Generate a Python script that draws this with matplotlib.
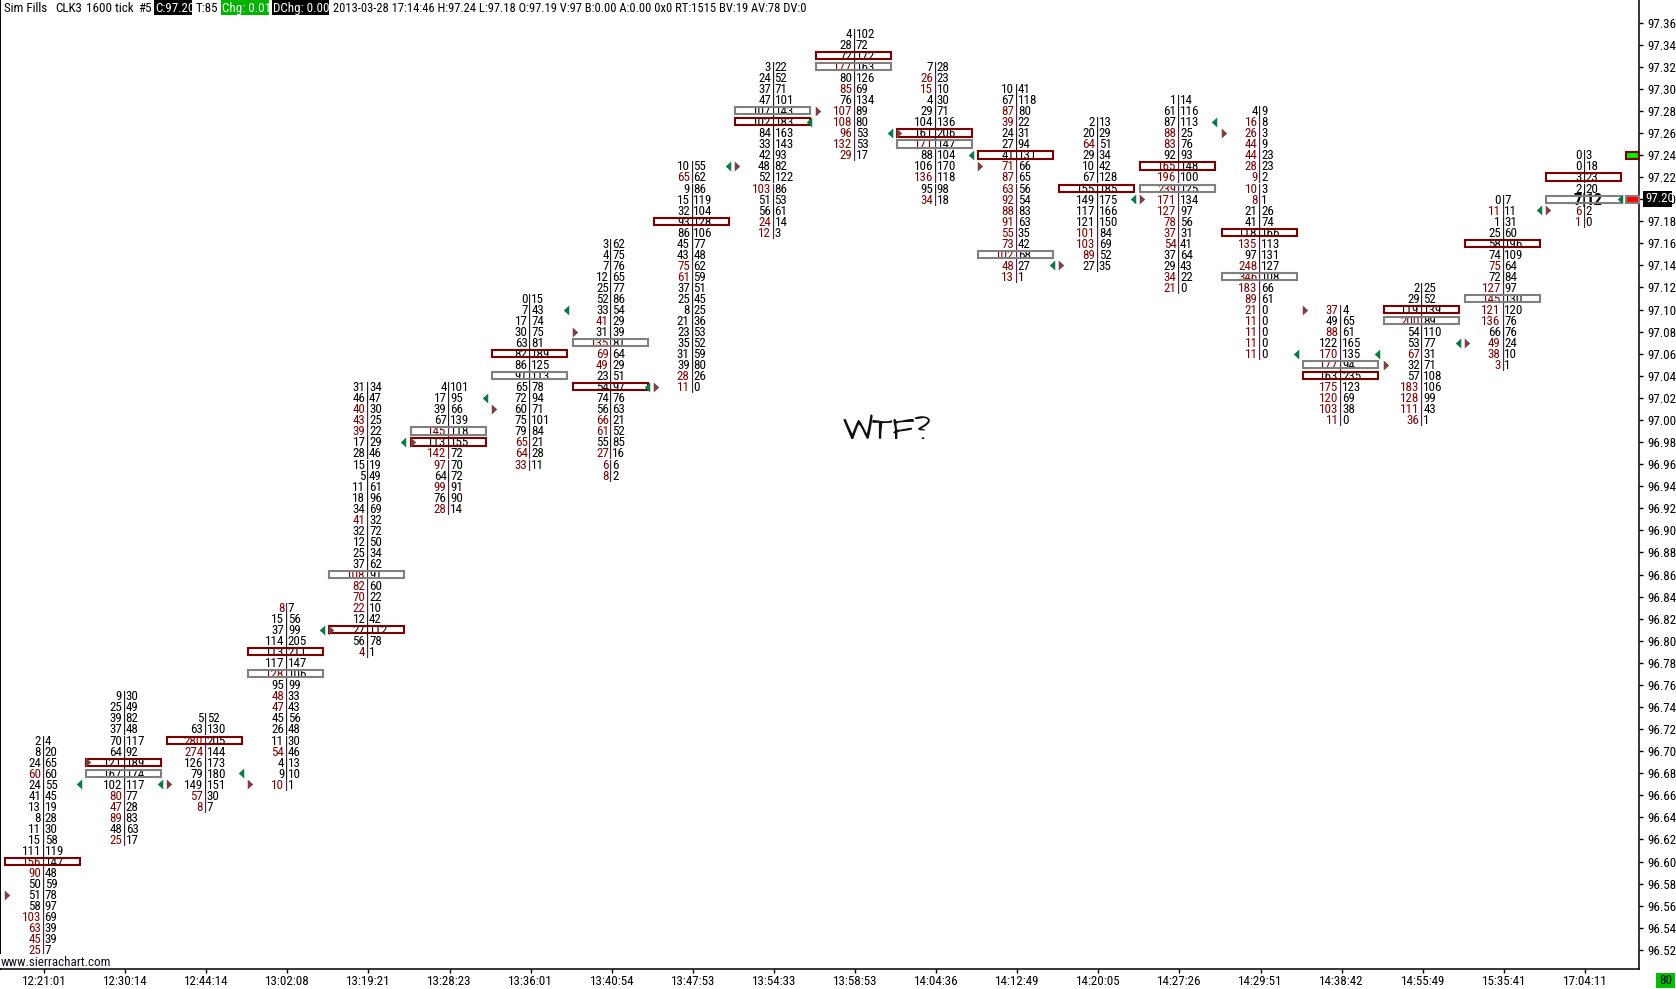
import matplotlib
matplotlib.use("Agg")
import matplotlib.pyplot as plt
from matplotlib.patches import Rectangle
from matplotlib import font_manager as fm

W, H = 1676, 989
names = {f.name for f in fm.fontManager.ttflist}
FONT = 'Liberation Sans'
PXS = 11.5
for cand, size in [('Roboto Condensed', 13.0), ('Archivo Narrow', 13.5), ('Liberation Sans Narrow', 14.0)]:
    if cand in names:
        FONT, PXS = cand, size
        break
HAND = next((n for n in ['Architects Daughter', 'Shadows Into Light', 'Liberation Serif'] if n in names), 'DejaVu Sans')
plt.rcParams['font.family'] = [FONT, 'DejaVu Sans']

times = ["12:21:01","12:30:14","12:44:14","13:02:08","13:19:21","13:28:23","13:36:01","13:40:54","13:47:53","13:54:33",
         "13:58:53","14:04:36","14:12:49","14:20:05","14:27:26","14:29:51","14:38:42","14:55:49","15:35:41","17:04:11"]
top_price = [96.71,96.75,96.73,96.83,97.03,97.03,97.11,97.16,97.23,97.32,97.35,97.32,97.30,97.27,97.29,97.28,97.10,97.12,97.20,97.24]
bids = [
 [2,8,24,60,24,41,13,8,11,15,111,156,90,50,51,58,103,63,45,25],
 [9,25,39,37,70,64,121,167,102,80,47,89,48,25],
 [5,63,280,274,126,79,149,57,8],
 [8,15,37,114,113,117,128,95,48,47,45,26,11,54,4,9,10],
 [31,46,40,43,39,17,28,15,5,11,18,34,41,32,12,25,37,108,82,70,22,12,27,56,4],
 [4,17,39,67,145,113,142,97,64,99,76,28],
 [0,7,17,30,63,82,86,91,65,72,60,75,79,65,64,33],
 [3,4,7,12,25,52,33,41,31,135,69,49,23,54,74,56,66,61,55,27,6,8],
 [10,65,9,15,32,93,86,45,43,75,61,37,25,8,21,23,35,31,39,28,11],
 [3,24,37,47,107,102,84,33,42,48,52,103,51,56,24,12],
 [4,28,72,177,80,85,76,107,108,96,132,29],
 [7,26,15,4,29,104,161,171,88,106,136,95,34],
 [10,67,87,39,24,27,41,71,87,63,92,88,91,55,73,102,48,13],
 [2,20,64,29,10,67,155,149,117,121,101,103,89,27],
 [1,61,87,88,83,92,165,196,239,171,127,78,37,54,37,29,34,21],
 [4,16,26,44,44,28,9,10,8,21,41,118,135,97,248,346,183,89,21,11,11,11,11],
 [37,49,88,122,170,177,163,175,120,103,11],
 [2,29,119,200,54,53,67,32,57,183,128,111,36],
 [0,11,1,25,58,74,75,72,127,145,121,136,66,49,38,3],
 [0,0,3,2,7,6,1],
]
asks = [
 [4,20,65,60,55,45,19,28,30,58,119,147,48,59,78,97,69,39,39,7],
 [30,49,82,48,117,92,189,174,117,77,28,83,63,17],
 [52,130,205,144,173,180,151,30,7],
 [7,56,99,205,211,147,106,99,33,43,56,48,30,46,13,10,1],
 [34,47,30,25,22,29,46,19,49,61,96,69,32,72,50,34,62,91,60,22,10,42,112,78,1],
 [101,95,66,139,118,155,72,70,72,91,90,14],
 [15,43,74,75,81,189,125,113,78,94,71,101,84,21,28,11],
 [62,75,76,65,77,86,54,29,39,81,64,29,51,97,76,63,21,52,85,16,6,2],
 [55,62,86,119,104,128,106,77,48,62,59,51,45,25,36,53,52,59,80,26,0],
 [22,52,71,101,143,183,163,143,93,82,122,86,53,61,14,3],
 [102,72,172,163,126,69,134,89,80,53,53,17],
 [28,23,10,30,71,136,206,147,104,170,118,98,18],
 [41,118,80,22,31,94,131,66,65,56,54,83,63,35,42,68,27,1],
 [13,29,51,34,42,128,185,175,166,150,84,69,52,35],
 [14,116,113,25,76,93,148,100,125,134,97,56,31,41,64,43,22,0],
 [9,8,3,9,23,23,2,3,1,26,74,166,113,131,127,108,66,61,0,0,0,0,0],
 [4,65,61,165,135,94,235,123,69,38,0],
 [25,52,139,89,110,77,31,71,108,106,99,43,1],
 [7,11,31,60,196,109,64,84,97,130,120,76,76,24,10,1],
 [3,18,23,20,12,2,0],
]
poc_price = [96.60,96.69,96.71,96.79,96.81,96.98,97.06,97.03,97.18,97.27,97.33,97.26,97.24,97.21,97.23,97.17,97.04,97.10,97.16,97.22]
gray_price = [None,96.68,None,96.77,96.86,96.99,97.04,97.07,None,97.28,97.32,97.25,97.15,None,97.21,97.13,97.05,97.09,97.11,97.20]
brown_price = [96.57,96.69,96.67,96.67,96.81,96.98,97.01,97.08,97.03,97.23,97.28,97.26,97.23,97.14,97.20,97.26,97.10,97.05,97.07,97.19]
green_price = [96.67,96.67,96.68,96.81,96.98,97.02,97.10,97.03,97.23,97.27,97.26,97.24,97.14,97.20,97.27,97.06,97.06,97.07,97.19,97.20]
axis_ticks = [96.52,96.54,96.56,96.58,96.60,96.62,96.64,96.66,96.68,96.70,96.72,96.74,96.76,96.78,96.80,96.82,96.84,96.86,96.88,96.90,96.92,96.94,96.96,96.98,97.00,97.02,97.04,97.06,97.08,97.10,97.12,97.14,97.16,97.18,97.20,97.22,97.24,97.26,97.28,97.30,97.32,97.34,97.36]

RIGHT, BOTTOM = 1639, 969
X0, DX = 44.0, 81.1
Y_REF, P_REF, PXP = 155.0, 97.24, 11.04 / 0.01
FS = PXS * 72 / 100
DARK = '#7b0000'; GRAYC = '#808080'; TXTRED = '#800000'

fig = plt.figure(figsize=(W/100, H/100), dpi=100, facecolor='white')
ax = fig.add_axes([0, 1-BOTTOM/H, RIGHT/W, BOTTOM/H])
ax.set_xlim((0-X0)/DX, (RIGHT-X0)/DX)
ax.set_ylim(P_REF-(BOTTOM-Y_REF)/PXP, P_REF+Y_REF/PXP)
ax.set_facecolor('white')
ax.spines['top'].set_visible(False)
ax.spines['left'].set_linewidth(1.4)
ax.spines['right'].set_linewidth(1.1)
ax.spines['bottom'].set_linewidth(1.1)
ax.yaxis.tick_right()
ax.set_yticks(axis_ticks)
ax.set_yticklabels([f"{v:.2f}" for v in axis_ticks], fontsize=FS, color='black')
ax.set_xticks(range(len(times)))
ax.set_xticklabels(times, fontsize=FS, color='black')
ax.tick_params(axis='y', length=3, width=1, pad=3)
ax.tick_params(axis='x', length=3, width=1, pad=1)

px = 1/DX
ROW_SHIFT = 0.9 / PXP
for i, (b, a) in enumerate(zip(bids, asks)):
    for k, (bv, av) in enumerate(zip(b, a)):
        p = top_price[i] - k*0.01 - ROW_SHIFT
        heavy = (i == 19 and bv == 7)
        kw = dict(va='center', fontsize=FS*(1.3 if heavy else 1), fontweight='bold' if heavy else 'normal', zorder=2)
        ax.text(i-3.0*px, p, str(bv), ha='right', color=TXTRED if bv >= av else 'black', **kw)
        ax.text(i-0.8*px, p, '|', ha='center', color='#3a0030' if bv >= av else 'black', **kw)
        ax.text(i+0.6*px, p, str(av), ha='left', color='black', **kw)
    for price, col in ((gray_price[i], GRAYC), (poc_price[i], DARK)):
        if price is not None:
            ax.add_patch(Rectangle((i-39*px, price-3.6/PXP), 75*px, 7.2/PXP, fill=False, edgecolor=col, linewidth=1.5, zorder=3))

LEFTM = [(-0.55,0),(0.55,1),(0.55,-1),(-0.55,0)]
RIGHTM = [(0.55,0),(-0.55,1),(-0.55,-1),(0.55,0)]
for i in range(len(times)):
    ax.plot([i+35*px],[green_price[i]], marker=LEFTM, ms=7.2, mfc='#0a7a45', mew=0, ls='none', zorder=4)
    ax.plot([i-37*px],[brown_price[i]], marker=RIGHTM, ms=7.2, mfc='#7d4040', mew=0, ls='none', zorder=4)

ax.add_patch(Rectangle(((1626-X0)*px, 97.24-3.5/PXP), 13*px, 7/PXP, fc='#00f000', ec=DARK, lw=1.5, zorder=4, clip_on=False))
ax.add_patch(Rectangle(((1626-X0)*px, 97.20-3.5/PXP), 13*px, 7/PXP, fc='#ff0000', ec=GRAYC, lw=1.5, zorder=4, clip_on=False))

def fx(x): return x/W
def fy(y): return 1-y/H
def box(x0, x1, y0, y1, c):
    fig.patches.append(Rectangle((fx(x0), fy(y1)), (x1-x0)/W, (y1-y0)/H, transform=fig.transFigure, fc=c, ec='none', zorder=5))

box(1643, 1672, 191, 207, 'black')
fig.text(fx(1645), fy(199), "97.20", color='white', fontsize=FS, va='center', zorder=6)

box(154, 192, 0, 15, 'black'); box(221, 269, 0, 15, '#00b400'); box(272, 329, 0, 15, 'black')
for x, s, c, scale in [(4,"Sim Fills",'black',1),(55,"CLK3",'black',1),(86,"1600 tick",'black',1),(138,"#5",'black',1),
                (155,"C:97.20",'white',1),(196,"T:85",'black',1),(222,"Chg: 0.01",'white',1),(273,"DChg: 0.00",'white',1),
                (333,"2013-03-28 17:14:46 H:97.24 L:97.18 O:97.19 V:97 B:0.00 A:0.00 0x0 RT:1515 BV:19 AV:78 DV:0",'black',0.96)]:
    fig.text(fx(x), fy(8.5), s, color=c, fontsize=FS*scale, va='center', zorder=6)

box(0, 114, 954, 968, 'white')
fig.text(fx(1), fy(962), "www.sierrachart.com", color='#101020', fontsize=FS, va='center', zorder=6)
box(1656, 1675, 973, 988, '#00c000')
fig.text(fx(1665.5), fy(980.5), "80", color='black', fontsize=FS, ha='center', va='center', zorder=6)

fig.text(fx(887), fy(434), "WTF?", color='#111111', fontsize=23, family=[HAND, 'DejaVu Sans'], fontweight='normal', ha='center', va='center', zorder=6)

fig.savefig('out.png', dpi=100, facecolor='white')
